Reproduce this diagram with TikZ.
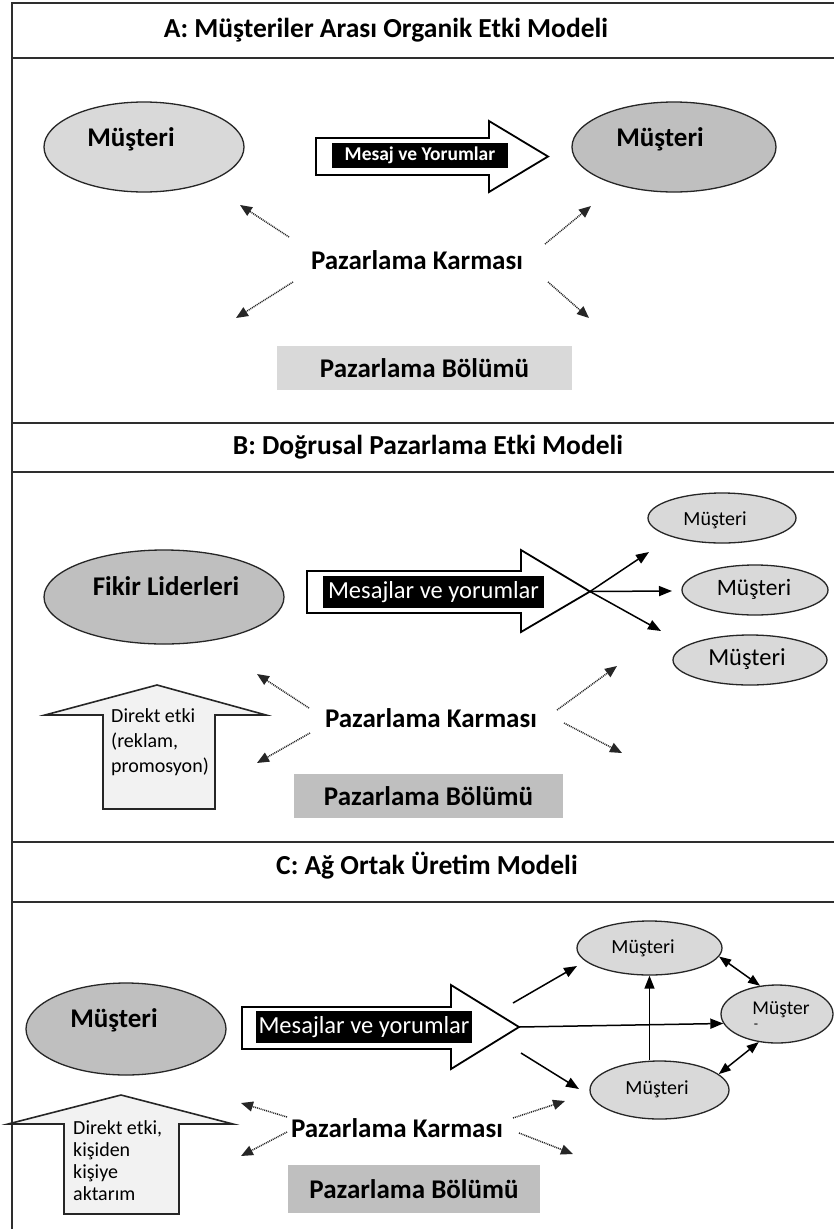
\documentclass[tikz,border=0pt]{standalone}
\usepackage{fontspec}
\setmainfont{Carlito}
\usetikzlibrary{shapes.geometric,arrows.meta}

\definecolor{grayL}{HTML}{D9D9D9}
\definecolor{grayM}{HTML}{BFBFBF}
\definecolor{grayP}{HTML}{F2F2F2}
\definecolor{frameC}{HTML}{2E2E2E}

\begin{document}
\begin{tikzpicture}[x=1pt,y=-1pt,
  framestroke/.style={draw=frameC, line width=2.2pt, line cap=rect},
  headtext/.style={font=\fontsize{27.5}{32}\selectfont\bfseries, inner sep=0pt},
  bigtext/.style={font=\fontsize{27}{32}\selectfont\bfseries, inner sep=0pt},
  oval/.style={ellipse, draw=black!85, line width=1.3pt, inner sep=0pt},
  smalltext/.style={font=\fontsize{#1}{24}\selectfont, inner sep=0pt},
  blockarrow/.style={draw=black, line width=1.8pt, fill=white, line join=miter},
  msgbox/.style={fill=black, text=white, inner sep=0pt},
  deptbox/.style={inner sep=0pt, font=\fontsize{27}{32}\selectfont\bfseries},
  flow/.style={line width=1.5pt, -{Triangle[length=13pt,width=10pt]}},
  twoway/.style={line width=1.5pt, {Triangle[length=12pt,width=9pt]}-{Triangle[length=12pt,width=9pt]}},
  mixarrow/.style={line width=1.5pt, draw=black!85, dash pattern=on 1pt off 0.9pt,
    -{Triangle[length=12pt,width=10pt]}},
  pushup/.style={draw=black!85, line width=1.6pt, fill=grayP, line join=miter},
  notetext/.style={font=\fontsize{20}{#1}\selectfont, align=left, inner sep=0pt},
]
\fill[white] (0,0) rectangle (834,1229);
\useasboundingbox (0,0) rectangle (834,1229);

% ---------- panel A ----------
\node[headtext] (titleA) at (386,30) {A: Müşteriler Arası Organik Etki Modeli};

\node[oval, fill=grayL, minimum width=200pt, minimum height=90pt] (aLeft) at (144,147) {};
\node[bigtext] (aLeftTxt) at (131,139) {Müşteri};
\node[oval, fill=grayM, minimum width=204pt, minimum height=90pt] (aRight) at (674,147) {};
\node[bigtext] (aRightTxt) at (660,139) {Müşteri};

\draw[blockarrow] (316,138) -- (489,138) -- (489,121) -- (548,156.5) -- (489,192)
  -- (489,175) -- (316,175) -- cycle;
\node[msgbox, minimum width=176pt, minimum height=25pt,
  font=\fontsize{19.5}{22}\selectfont\bfseries] (aMsg) at (420,155.5) {Mesaj ve Yorumlar};

\node[bigtext] (aMix) at (417,260) {Pazarlama Karması};
\coordinate (aUL0) at (289,237); \coordinate (aUL1) at (240,205);
\coordinate (aUR0) at (545,244); \coordinate (aUR1) at (591,206);
\coordinate (aLL0) at (293,282); \coordinate (aLL1) at (236,318);
\coordinate (aLR0) at (548,282); \coordinate (aLR1) at (589,318);
\draw[mixarrow] (aUL0) -- (aUL1);
\draw[mixarrow] (aUR0) -- (aUR1);
\draw[mixarrow] (aLL0) -- (aLL1);
\draw[mixarrow] (aLR0) -- (aLR1);

\node[deptbox, fill=grayL, minimum width=295pt, minimum height=44pt] (aDept) at (424.5,368) {Pazarlama Bölümü};

% ---------- panel B ----------
\node[headtext] (titleB) at (428,447) {B: Doğrusal Pazarlama Etki Modeli};

\node[oval, fill=grayM, minimum width=240pt, minimum height=94pt] (bLead) at (164,597) {};
\node[bigtext] (bLeadTxt) at (166,586) {Fikir Liderleri};

\draw[blockarrow] (307,571) -- (521,571) -- (521,550) -- (590,591.5) -- (521,632)
  -- (521,613) -- (307,613) -- cycle;
\node[msgbox, minimum width=221pt, minimum height=32pt,
  font=\fontsize{24.5}{28}\selectfont] (bMsg) at (433.5,592) {Mesajlar ve yorumlar};

\node[oval, fill=grayL, minimum width=148pt, minimum height=50pt] (bC1) at (722,518) {};
\node[smalltext=20] (bC1Txt) at (715,520) {Müşteri};
\node[oval, fill=grayL, minimum width=146pt, minimum height=50pt] (bC2) at (755,590) {};
\node[smalltext=23.5] (bC2Txt) at (754,589) {Müşteri};
\node[oval, fill=grayL, minimum width=154pt, minimum height=50pt] (bC3) at (750,660) {};
\node[smalltext=24.5] (bC3Txt) at (747,659) {Müşteri};

\coordinate (bTip) at (590,591.5);
\coordinate (bE1) at (649,552);
\coordinate (bE2) at (672,591);
\coordinate (bE3) at (661,631);
\draw[flow] (bTip) -- (bE1);
\draw[flow] (bTip) -- (bE2);
\draw[flow] (bTip) -- (bE3);

\draw[pushup] (157,685) -- (266,715) -- (215,715) -- (215,809) -- (103,809)
  -- (103,715) -- (45,715) -- cycle;
\node[notetext=25, anchor=west] (bPush) at (111,742) {Direkt etki\\(reklam,\\promosyon)};

\node[bigtext] (bMix) at (431,718) {Pazarlama Karması};
\coordinate (bUL0) at (309,708); \coordinate (bUL1) at (257,674);
\coordinate (bLL0) at (310,733); \coordinate (bLL1) at (257,763);
\coordinate (bUR0) at (557,710); \coordinate (bUR1) at (617,666);
\coordinate (bLR0) at (564,723); \coordinate (bLR1) at (622,753);
\draw[mixarrow] (bUL0) -- (bUL1);
\draw[mixarrow] (bLL0) -- (bLL1);
\draw[mixarrow] (bUR0) -- (bUR1);
\draw[mixarrow] (bLR0) -- (bLR1);

\node[deptbox, fill=grayM, minimum width=269pt, minimum height=44pt] (bDept) at (428.5,796) {Pazarlama Bölümü};

% ---------- panel C ----------
\node[headtext] (titleC) at (427,866) {C: Ağ Ortak Üretim Modeli};

\node[oval, fill=grayM, minimum width=200pt, minimum height=92pt] (cCust) at (126,1029) {};
\node[bigtext] (cCustTxt) at (114,1020) {Müşteri};

\draw[blockarrow] (242,1007) -- (451,1007) -- (451,985) -- (519,1027) -- (451,1069)
  -- (451,1049) -- (242,1049) -- cycle;
\node[msgbox, minimum width=216pt, minimum height=32pt,
  font=\fontsize{24.5}{28}\selectfont] (cMsg) at (364,1027) {Mesajlar ve yorumlar};

\node[oval, fill=grayL, minimum width=145pt, minimum height=54pt] (cTop) at (649.5,948) {};
\node[smalltext=20] (cTopTxt) at (643,948) {Müşteri};
\node[oval, fill=grayL, minimum width=112pt, minimum height=58pt] (cRight) at (777,1014) {};
\node[smalltext=19.5] (cRightTxt) at (781,1010) {Müşter};
\node[smalltext=14] (cRightDash) at (756,1026) {-};
\node[oval, fill=grayL, minimum width=139pt, minimum height=58pt] (cBot) at (659.5,1090) {};
\node[smalltext=20] (cBotTxt) at (657,1089) {Müşteri};

\coordinate (cTip) at (519,1027);
\coordinate (cUp0) at (513,1003); \coordinate (cUp1) at (577,966);
\coordinate (cLo0) at (521,1053); \coordinate (cLo1) at (579,1089);
\draw[flow] (cUp0) -- (cUp1);
\draw[flow] (cTip) -- (cRight.190);
\draw[flow] (cLo0) -- (cLo1);
\draw[flow] (cTop.south |- cBot.north) -- (cTop.south);
\draw[twoway] (cTop.-7) -- (cRight.121);
\draw[twoway] (cBot.15) -- (cRight.237);

\node[bigtext] (cMix) at (397,1128) {Pazarlama Karması};
\coordinate (cUL0) at (287,1117); \coordinate (cUL1) at (241,1103);
\coordinate (cLL0) at (287,1132); \coordinate (cLL1) at (241,1156);
\coordinate (cUR0) at (513,1118); \coordinate (cUR1) at (565,1101);
\coordinate (cLR0) at (519,1133); \coordinate (cLR1) at (573,1154);
\draw[mixarrow] (cUL0) -- (cUL1);
\draw[mixarrow] (cLL0) -- (cLL1);
\draw[mixarrow] (cUR0) -- (cUR1);
\draw[mixarrow] (cLR0) -- (cLR1);

\node[deptbox, fill=grayM, minimum width=252pt, minimum height=48pt] (cDept) at (414,1189) {Pazarlama Bölümü};

% ---------- frame ----------
\draw[framestroke] (12,3) -- (834,3);
\draw[framestroke] (12,58) -- (834,58);
\draw[framestroke] (12,423) -- (834,423);
\draw[framestroke] (12,472) -- (834,472);
\draw[framestroke] (12,842) -- (834,842);
\draw[framestroke] (12,902) -- (834,902);
\draw[framestroke] (12,3) -- (12,1229);

\draw[pushup] (121,1095) -- (233,1124) -- (179,1124) -- (179,1214) -- (64,1214)
  -- (64,1124) -- (8,1124) -- cycle;
\node[notetext=22, anchor=west] (cPush) at (73,1161) {Direkt etki,\\kişiden\\kişiye\\aktarım};
\end{tikzpicture}
\end{document}
